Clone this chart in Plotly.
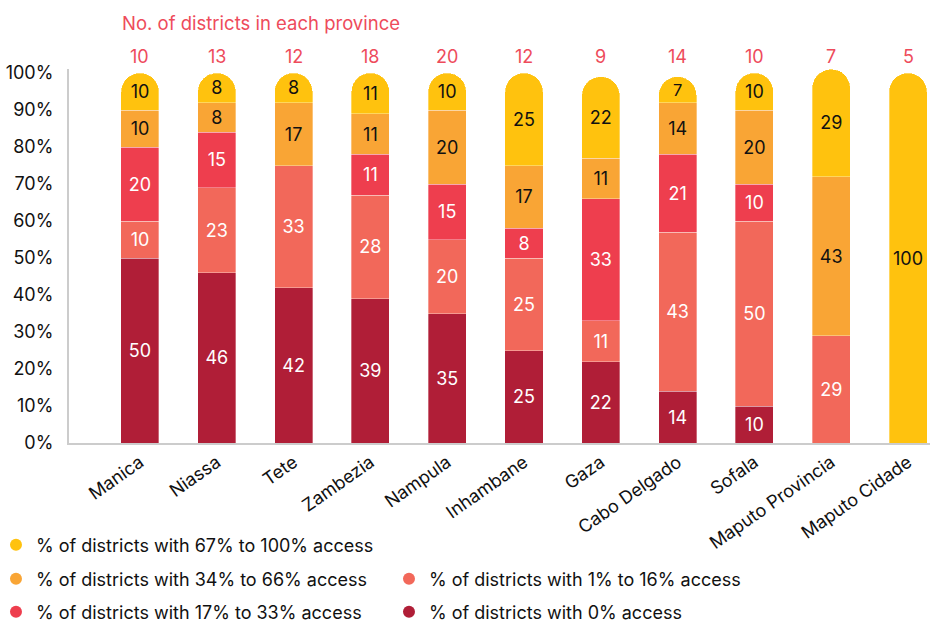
import plotly.graph_objects as go

provinces = ["Manica", "Niassa", "Tete", "Zambezia", "Nampula", "Inhambane", "Gaza",
             "Cabo Delgado", "Sofala", "Maputo Provincia", "Maputo Cidade"]
districts = [10, 13, 12, 18, 20, 12, 9, 14, 10, 7, 5]

access_0 = [50, 46, 42, 39, 35, 25, 22, 14, 10, 0, 0]
access_1_16 = [10, 23, 33, 28, 20, 25, 11, 43, 50, 29, 0]
access_17_33 = [20, 15, 0, 11, 15, 8, 33, 21, 10, 0, 0]
access_34_66 = [10, 8, 17, 11, 20, 17, 11, 14, 20, 43, 0]
access_67_100 = [10, 8, 8, 11, 10, 25, 22, 7, 10, 29, 100]

y_ticks = list(range(0, 101, 10))
y_tick_labels = [f"{v}%" for v in y_ticks]

series = [
    ("% of districts with 0% access", access_0, "#B01E37", "white", "legend3"),
    ("% of districts with 1% to 16% access", access_1_16, "#F2685A", "white", "legend2"),
    ("% of districts with 17% to 33% access", access_17_33, "#EE3E4E", "white", "legend3"),
    ("% of districts with 34% to 66% access", access_34_66, "#F9A535", "#111111", "legend2"),
    ("% of districts with 67% to 100% access", access_67_100, "#FFC20E", "#111111", "legend"),
]

FONT = "Inter, 'Noto Sans', sans-serif"
fig = go.Figure()
x_idx = list(range(len(provinces)))

for name, vals, color, tcolor, lg in series:
    fig.add_trace(go.Bar(
        x=x_idx, y=vals, name=name, showlegend=False,
        marker=dict(color=color, line=dict(width=0.6, color="rgba(255,255,255,0.55)")),
        text=[str(v) if v > 0 else "" for v in vals],
        textposition="inside", insidetextanchor="middle", constraintext="none",
        textangle=0,
        textfont=dict(family=FONT, size=18, color=tcolor),
        hoverinfo="skip",
    ))
    fig.add_trace(go.Scatter(
        x=[None], y=[None], mode="markers", name=name, legend=lg,
        marker=dict(symbol="circle", size=12, color=color),
    ))

for i, n in enumerate(districts):
    fig.add_annotation(x=i, y=1, xref="x", yref="paper", yanchor="bottom", yshift=0,
                       text=str(n), showarrow=False,
                       font=dict(family=FONT, size=18, color="#EE4B5B"))

leg_common = dict(orientation="h", xref="paper", x=-0.0848, xanchor="left",
                  yref="paper", yanchor="middle", traceorder="reversed",
                  entrywidth=348, entrywidthmode="pixels",
                  font=dict(family=FONT, size=18, color="#111111"),
                  bgcolor="rgba(0,0,0,0)", itemclick=False)

fig.update_layout(
    width=931, height=623,
    margin=dict(l=69, r=1, t=69, b=180, autoexpand=False),
    paper_bgcolor="white", plot_bgcolor="white",
    barmode="stack", bargap=0.505, barcornerradius="50%",
    font=dict(family=FONT, size=18, color="#111111"),
    title=dict(text="No. of districts in each province", xref="container", x=122/931,
               xanchor="left", yref="container", y=1 - 24/623, yanchor="middle",
               font=dict(family=FONT, size=18.5, color="#EE4B5B")),
    xaxis=dict(range=[-0.924, 10.286], tickvals=x_idx, ticktext=provinces,
               tickangle=-35, showgrid=False, zeroline=False,
               showline=True, linecolor="#CCCCCC", linewidth=2, ticks="",
               tickfont=dict(family=FONT, size=18, color="#111111")),
    yaxis=dict(range=[0, 101.08], tickmode="array", tickvals=y_ticks,
               ticktext=y_tick_labels, showgrid=False, zeroline=False,
               showline=True, linecolor="#CCCCCC", linewidth=2, ticks="",
               ticklabelstandoff=10,
               tickfont=dict(family=FONT, size=18, color="#111111")),
    legend=dict(**leg_common, y=(443 - 545) / 374),
    legend2=dict(**leg_common, y=(443 - 579) / 374),
    legend3=dict(**leg_common, y=(443 - 612) / 374),
    showlegend=True,
)

fig.write_html("out.html", config={"displayModeBar": False},
               post_script="document.body.style.margin='0';")
